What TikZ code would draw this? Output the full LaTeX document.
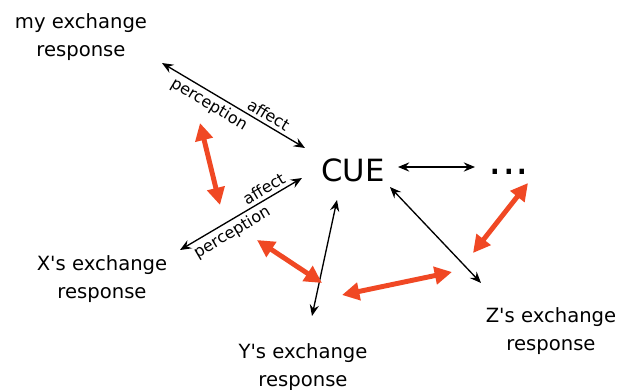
\documentclass[tikz,border=0pt]{standalone}
\usepackage{fontspec}
\newfontfamily\dvs{DejaVu Sans}
\usetikzlibrary{arrows.meta}
\definecolor{redarrow}{RGB}{240,72,36}
\begin{document}
\begin{tikzpicture}[x=0.75pt,y=-0.75pt,
  lbl/.style={font=\dvs\fontsize{14.7}{21}\selectfont, align=center, inner sep=0pt},
  lab/.style={font=\dvs\fontsize{12}{12}\selectfont, sloped, inner sep=2.5pt},
  blk/.style={draw=black, line width=1pt,
    {Stealth[length=8.5pt,width=7pt,inset=3pt]}-{Stealth[length=8.5pt,width=7pt,inset=3pt]}},
  redarr/.style={draw=redarrow, line width=3.7pt,
    {Triangle[length=13pt,width=13pt]}-{Triangle[length=13pt,width=13pt]}}]
\useasboundingbox (0,0) rectangle (619,390);

% text nodes
\node[lbl] (my) at (81,37) {my exchange\\response};
\node[lbl] (x) at (102,279) {X's exchange\\response};
\node[lbl] (y) at (303,367) {Y's exchange\\response};
\node[lbl] (z) at (551,331) {Z's exchange\\response};
\node[font=\dvs\fontsize{23}{23}\selectfont, inner sep=0pt] (cue) at (353,170.5) {CUE};
\node[font=\dvs\fontsize{32}{32}\selectfont, inner sep=0pt, anchor=base] (dots) at (509,174) {...};

% connector ends
\coordinate (myE) at (162,63);
\coordinate (cueNW) at (305,148);
\coordinate (xE) at (180,250);
\coordinate (cueW) at (302,178);
\coordinate (cueS) at (337,200);
\coordinate (yN) at (312,316);
\coordinate (cueSE) at (390,187);
\coordinate (zN) at (481,283);
\coordinate (cueE) at (398,167);
\coordinate (dotsW) at (475,167);

% black connectors
\draw[blk] (myE) -- node[lab, below, pos=0.37]{perception} node[lab, above, pos=0.71]{affect} (cueNW);
\draw[blk] (xE) -- node[lab, below, pos=0.38]{perception} node[lab, above, pos=0.73]{affect} (cueW);
\draw[blk] (cueS) -- (yN);
\draw[blk] (cueSE) -- (zN);
\draw[blk] (cueE) -- (dotsW);

% red arrows
\coordinate (r1a) at (200,123);
\coordinate (r1b) at (220,205);
\coordinate (r2a) at (257,240);
\coordinate (r2b) at (322,283);
\coordinate (r3a) at (342,295);
\coordinate (r3b) at (452,272);
\coordinate (r4a) at (528,183);
\coordinate (r4b) at (473,253);
\draw[redarr] (r1a) -- (r1b);
\draw[redarr] (r2a) -- (r2b);
\draw[redarr] (r3a) -- (r3b);
\draw[redarr] (r4a) -- (r4b);
\end{tikzpicture}
\end{document}
